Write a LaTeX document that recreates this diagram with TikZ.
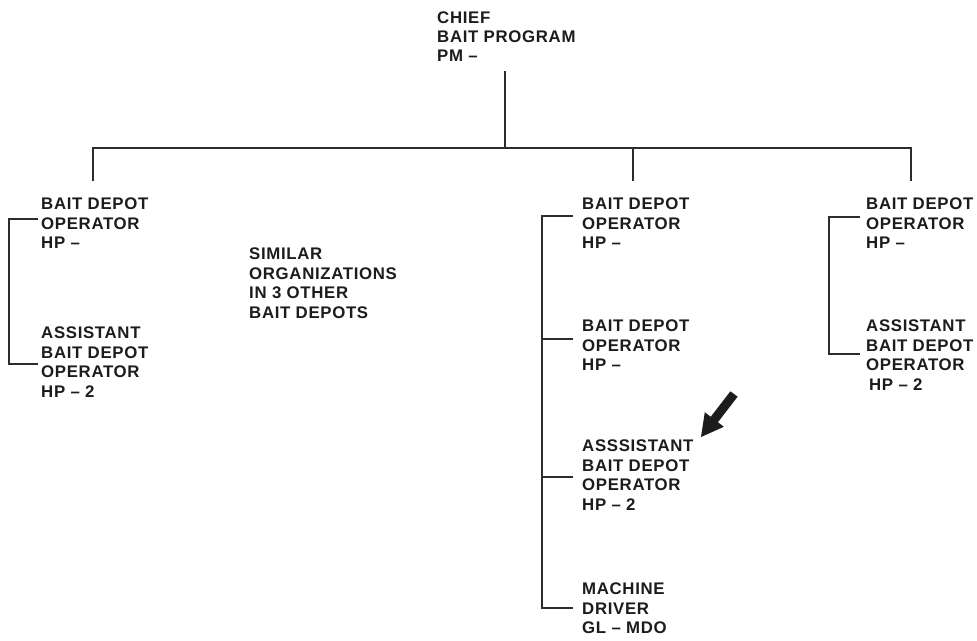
\documentclass[tikz,border=0pt]{standalone}
\usepackage{fontspec}
\setmainfont{Liberation Sans}[LetterSpace=4]
\definecolor{ink}{HTML}{1c1c1c}
\definecolor{wire}{HTML}{2c2c2c}
\begin{document}
\begin{tikzpicture}[x=1pt,y=-1pt,
  lbl/.style={anchor=north west,inner sep=0pt,align=left,text=ink,
    font=\fontsize{16.8}{19.5}\selectfont\bfseries},
  wire/.style={draw=wire,line width=1.8pt}]
\fill[white] (0,0) rectangle (977,640);
\path[use as bounding box] (0,0) rectangle (977,640);
% top
\node[lbl,font=\fontsize{16.8}{18.8}\selectfont\bfseries] (chief) at (437,12) {CHIEF\\BAIT PROGRAM\\PM –};
\coordinate (ctop) at (505,71);
\coordinate (cbus) at (505,148);
\coordinate (b1) at (93,148);
\coordinate (b2) at (633,148);
\coordinate (b3) at (911,148);
\coordinate (d1) at (93,181);
\coordinate (d2) at (633,181);
\coordinate (d3) at (911,181);
\draw[wire] (ctop) -- (cbus);
\draw[wire,line cap=rect] (b1) -- (b3);
\draw[wire] (b1) -- (d1);
\draw[wire] (b2) -- (d2);
\draw[wire] (b3) -- (d3);
% left column
\node[lbl] (l1) at (41,198) {BAIT DEPOT\\OPERATOR\\HP –};
\node[lbl] (l2) at (41,327) {ASSISTANT\\BAIT DEPOT\\OPERATOR\\HP – 2};
\coordinate (lt1) at (9,219);
\coordinate (lt2) at (9,364);
\draw[wire] (38,219) -- (lt1) -- (lt2) -- (38,364);
% similar
\node[lbl] (sim) at (249,248) {SIMILAR\\ORGANIZATIONS\\IN 3 OTHER\\BAIT DEPOTS};
% middle column
\node[lbl] (m1) at (582,198) {BAIT DEPOT\\OPERATOR\\HP –};
\node[lbl] (m2) at (582,320) {BAIT DEPOT\\OPERATOR\\HP –};
\node[lbl] (m3) at (582,440) {ASSSISTANT\\BAIT DEPOT\\OPERATOR\\HP – 2};
\node[lbl] (m4) at (582,583) {MACHINE\\DRIVER\\GL – MDO};
\coordinate (mt1) at (542,216);
\coordinate (mt2) at (542,339);
\coordinate (mt3) at (542,477);
\coordinate (mt4) at (542,608);
\draw[wire] (573,216) -- (mt1) -- (mt4) -- (573,608);
\draw[wire] (mt2) -- (573,339);
\draw[wire] (mt3) -- (573,477);
% right column
\node[lbl] (r1) at (866,198) {BAIT DEPOT\\OPERATOR\\HP –};
\node[lbl] (r2) at (866,320) {ASSISTANT\\BAIT DEPOT\\OPERATOR\\\hspace{3pt}HP – 2};
\coordinate (rt1) at (829,217);
\coordinate (rt2) at (829,354);
\draw[wire] (860,217) -- (rt1) -- (rt2) -- (860,354);
% arrow
\fill[ink] (701,437) -- (723.8,426.8) -- (717.9,422.2) -- (737.6,396.7)
  -- (730.4,391.3) -- (710.7,416.8) -- (704.8,412.2) -- cycle;
\end{tikzpicture}
\end{document}
